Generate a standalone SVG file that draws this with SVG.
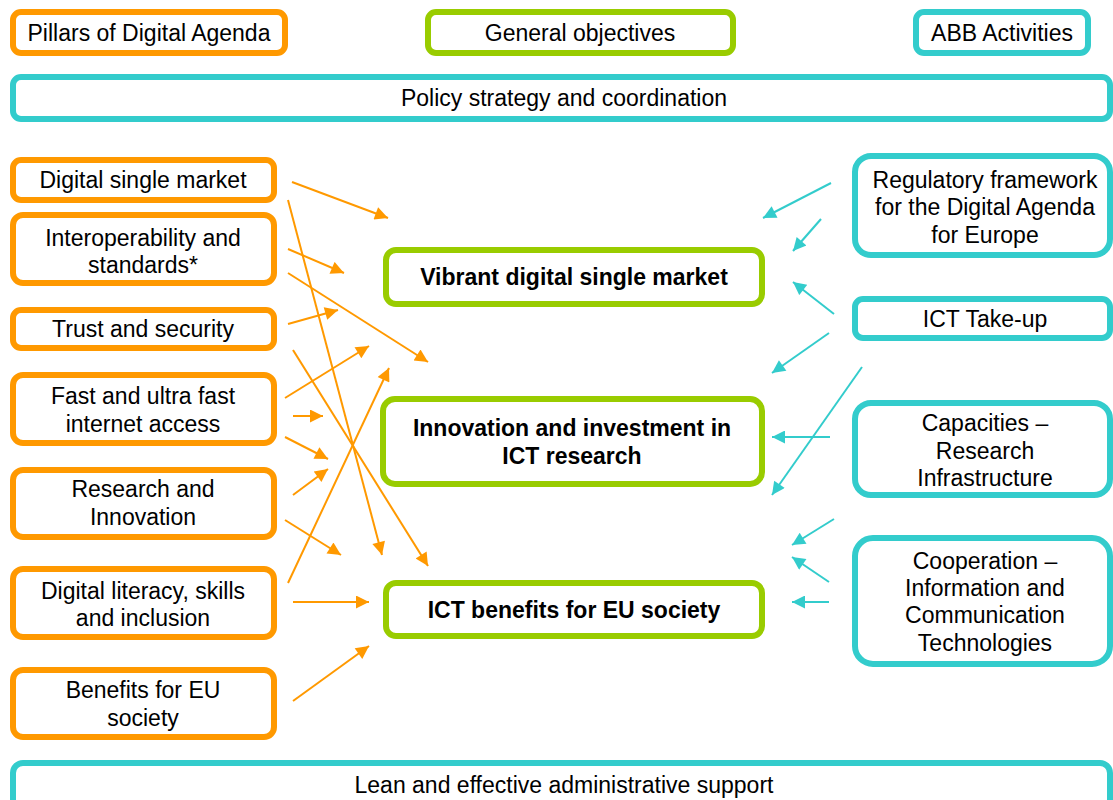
<svg xmlns="http://www.w3.org/2000/svg" width="1113" height="800" viewBox="0 0 1113 800">
  <defs>
    <marker id="ah-o" viewBox="0 0 10 10" refX="10" refY="5" markerWidth="7.5" markerHeight="6.5" markerUnits="strokeWidth" orient="auto">
      <path d="M0,0 L10,5 L0,10 z" fill="#FF9900"/>
    </marker>
    <marker id="ah-t" viewBox="0 0 10 10" refX="10" refY="5" markerWidth="7.5" markerHeight="6.5" markerUnits="strokeWidth" orient="auto">
      <path d="M0,0 L10,5 L0,10 z" fill="#33CCCC"/>
    </marker>
  </defs>
  <style>
    text { font-family: "Liberation Sans", Arial, sans-serif; font-size: 23px; fill: #000; text-anchor: middle; }
    .b { font-weight: bold; }
    .box { fill: #fff; stroke-width: 6; }
    .or { stroke: #FF9900; }
    .gr { stroke: #99CC00; }
    .tl { stroke: #33CCCC; }
    .ao { stroke: #FF9900; stroke-width: 2; fill: none; marker-end: url(#ah-o); }
    .at { stroke: #33CCCC; stroke-width: 2; fill: none; marker-end: url(#ah-t); }
  </style>
  <rect width="1113" height="800" fill="#fff"/>

  <!-- header row -->
  <g id="hdr-pillars">
    <rect class="box or" x="13" y="12" width="272" height="41" rx="8"/>
    <text x="149" y="41">Pillars of Digital Agenda</text>
  </g>
  <g id="hdr-objectives">
    <rect class="box gr" x="428" y="12" width="305" height="41" rx="8"/>
    <text x="580" y="41">General objectives</text>
  </g>
  <g id="hdr-abb">
    <rect class="box tl" x="916" y="12" width="172" height="41" rx="8"/>
    <text x="1002" y="41">ABB Activities</text>
  </g>

  <g id="policy">
    <rect class="box tl" x="13" y="77" width="1097" height="42" rx="8"/>
    <text x="564" y="106">Policy strategy and coordination</text>
  </g>

  <!-- connectors -->
  <g id="connectors">
    <line class="ao" x1="292" y1="182" x2="388" y2="218"/>
    <line class="ao" x1="288" y1="249" x2="344" y2="273"/>
    <line class="ao" x1="288" y1="273" x2="428" y2="362"/>
    <line class="ao" x1="288" y1="200" x2="382" y2="555"/>
    <line class="ao" x1="288" y1="324" x2="338" y2="310"/>
    <line class="ao" x1="293" y1="350" x2="428" y2="566"/>
    <line class="ao" x1="285" y1="398" x2="369" y2="346"/>
    <line class="ao" x1="293" y1="416" x2="323" y2="416"/>
    <line class="ao" x1="285" y1="437" x2="328" y2="459"/>
    <line class="ao" x1="293" y1="495" x2="328" y2="469"/>
    <line class="ao" x1="285" y1="520" x2="341" y2="555"/>
    <line class="ao" x1="288" y1="583" x2="389" y2="368"/>
    <line class="ao" x1="293" y1="602" x2="369" y2="602"/>
    <line class="ao" x1="293" y1="701" x2="369" y2="646"/>

    <line class="at" x1="831" y1="183" x2="763" y2="218"/>
    <line class="at" x1="821" y1="219" x2="793" y2="251"/>
    <line class="at" x1="834" y1="314" x2="793" y2="282"/>
    <line class="at" x1="829" y1="333" x2="772" y2="373"/>
    <line class="at" x1="830" y1="437" x2="772" y2="437"/>
    <line class="at" x1="862" y1="367" x2="772" y2="495"/>
    <line class="at" x1="834" y1="519" x2="792" y2="545"/>
    <line class="at" x1="829" y1="582" x2="792" y2="557"/>
    <line class="at" x1="829" y1="602" x2="792" y2="602"/>
  </g>

  <!-- pillars -->
  <g id="p-dsm">
    <rect class="box or" x="13" y="160" width="261" height="40" rx="8"/>
    <text x="143" y="188">Digital single market</text>
  </g>
  <g id="p-interop">
    <rect class="box or" x="13" y="215" width="261" height="68" rx="10"/>
    <text x="143" y="246">Interoperability and</text>
    <text x="143" y="273">standards*</text>
  </g>
  <g id="p-trust">
    <rect class="box or" x="13" y="310" width="261" height="38" rx="8"/>
    <text x="143" y="337">Trust and security</text>
  </g>
  <g id="p-fast">
    <rect class="box or" x="13" y="375" width="261" height="68" rx="10"/>
    <text x="143" y="404">Fast and ultra fast</text>
    <text x="143" y="432">internet access</text>
  </g>
  <g id="p-research">
    <rect class="box or" x="13" y="470" width="261" height="67" rx="10"/>
    <text x="143" y="497">Research and</text>
    <text x="143" y="525">Innovation</text>
  </g>
  <g id="p-literacy">
    <rect class="box or" x="13" y="569" width="261" height="68" rx="10"/>
    <text x="143" y="599">Digital literacy, skills</text>
    <text x="143" y="626">and inclusion</text>
  </g>
  <g id="p-benefits">
    <rect class="box or" x="13" y="670" width="261" height="67" rx="10"/>
    <text x="143" y="698">Benefits for EU</text>
    <text x="143" y="726">society</text>
  </g>

  <!-- objectives -->
  <g id="o-vibrant">
    <rect class="box gr" x="386" y="250" width="376" height="54" rx="10"/>
    <text class="b" x="574" y="285">Vibrant digital single market</text>
  </g>
  <g id="o-innovation">
    <rect class="box gr" x="383" y="399" width="379" height="85" rx="12"/>
    <text class="b" x="572" y="436">Innovation and investment in</text>
    <text class="b" x="572" y="464">ICT research</text>
  </g>
  <g id="o-benefits">
    <rect class="box gr" x="386" y="583" width="376" height="53" rx="10"/>
    <text class="b" x="574" y="618">ICT benefits for EU society</text>
  </g>

  <!-- ABB activities -->
  <g id="a-regulatory">
    <rect class="box tl" x="855" y="156" width="255" height="99" rx="16"/>
    <text x="985" y="188">Regulatory framework</text>
    <text x="985" y="215">for the Digital Agenda</text>
    <text x="985" y="243">for Europe</text>
  </g>
  <g id="a-takeup">
    <rect class="box tl" x="855" y="299" width="255" height="39" rx="8"/>
    <text x="985" y="327">ICT Take-up</text>
  </g>
  <g id="a-capacities">
    <rect class="box tl" x="855" y="403" width="255" height="92" rx="16"/>
    <text x="985" y="431">Capacities –</text>
    <text x="985" y="459">Research</text>
    <text x="985" y="486">Infrastructure</text>
  </g>
  <g id="a-cooperation">
    <rect class="box tl" x="855" y="538" width="255" height="126" rx="18"/>
    <text x="985" y="569">Cooperation –</text>
    <text x="985" y="596">Information and</text>
    <text x="985" y="623">Communication</text>
    <text x="985" y="651">Technologies</text>
  </g>

  <g id="admin">
    <rect class="box tl" x="13" y="763" width="1097" height="60" rx="10"/>
    <text x="564" y="793">Lean and effective administrative support</text>
  </g>
</svg>
